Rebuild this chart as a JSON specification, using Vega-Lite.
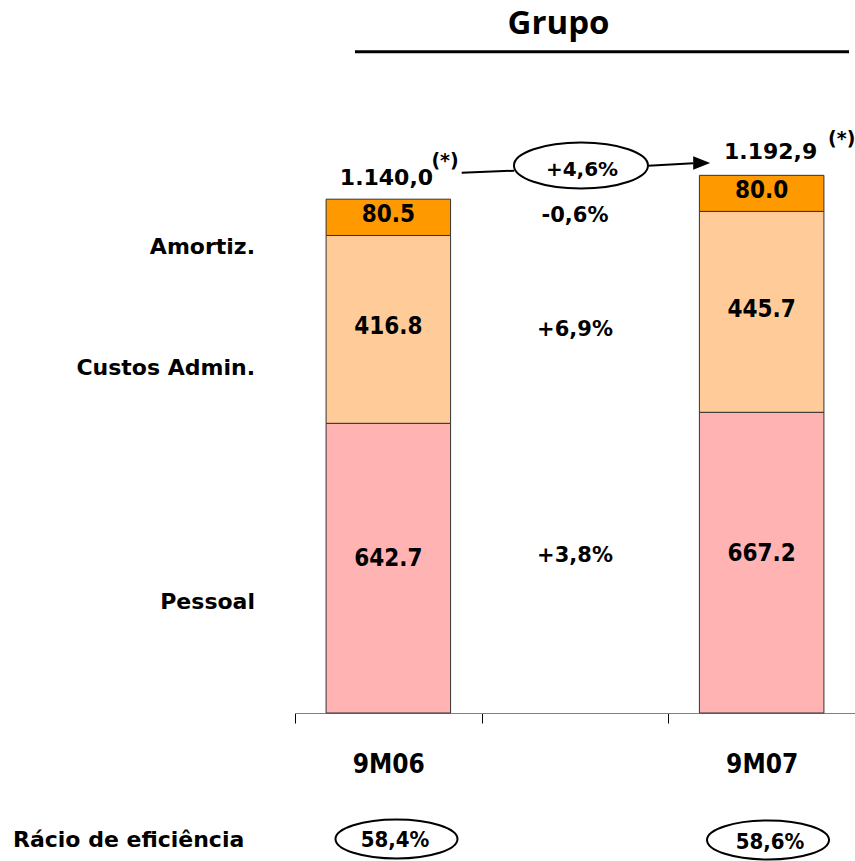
{
  "$schema": "https://vega.github.io/schema/vega-lite/v6.json",
  "width": 560,
  "height": 631,
  "autosize": {"type": "none"},
  "padding": {"left": 295, "top": 82, "right": 0, "bottom": 148},
  "background": "white",
  "config": {
    "view": {"stroke": null},
    "text": {"font": "DejaVu Sans", "fontWeight": "bold", "color": "black"}
  },
  "datasets": {
    "costs": [
      {"period": "9M06", "component": "Pessoal", "value": 642.7, "order": 1},
      {"period": "9M06", "component": "Custos Admin.", "value": 416.8, "order": 2},
      {"period": "9M06", "component": "Amortiz.", "value": 80.5, "order": 3},
      {"period": "9M07", "component": "Pessoal", "value": 667.2, "order": 1},
      {"period": "9M07", "component": "Custos Admin.", "value": 445.7, "order": 2},
      {"period": "9M07", "component": "Amortiz.", "value": 80.0, "order": 3}
    ],
    "rowLabels": [
      {"label": "Amortiz.", "pos": -0.2143, "level": 1033.9},
      {"label": "Custos Admin.", "pos": -0.2143, "level": 765.5},
      {"label": "Pessoal", "pos": -0.2143, "level": 246.3}
    ],
    "changes": [
      {"label": "-0,6%", "pos": 1.5, "level": 1102.7},
      {"label": "+6,9%", "pos": 1.5, "level": 849.8},
      {"label": "+3,8%", "pos": 1.5, "level": 348.3}
    ],
    "totals": [
      {"label": "1.140,0", "pos": 0.49, "level": 1185.9},
      {"label": "1.192,9", "pos": 2.548, "level": 1245.4}
    ],
    "notes": [
      {"label": "(*)", "pos": 0.804, "level": 1224.7},
      {"label": "(*)", "pos": 2.929, "level": 1273.5}
    ],
    "growth": [{"label": "+4,6%", "pos": 1.5375, "level": 1205.4}],
    "growthOval": [{"pos": 1.532, "level": 1214.7}],
    "links": [
      {"x0": 0.893, "y0": 1198.8, "x1": 1.175, "y1": 1203.2},
      {"x0": 1.8927, "y0": 1214.3, "x1": 2.1339, "y1": 1219.9}
    ],
    "arrowHead": [{"pos": 2.1786, "level": 1220.3}],
    "ratio": [
      {"label": "58,4%", "pos": 0.536, "level": -281.8},
      {"label": "58,6%", "pos": 2.545, "level": -286.2}
    ],
    "ratioOvals": [
      {"pos": 0.5437, "level": -279.6},
      {"pos": 2.534, "level": -281.8}
    ],
    "ratioLabel": [{"label": "Rácio de eficiência", "pos": -1.5107, "level": -281.8}],
    "heading": [{"label": "Grupo", "pos": 1.4116, "level": 1528.7}],
    "headingRule": [{"x0": 0.3214, "x1": 2.9679, "level": 1467.3}]
  },
  "resolve": {"scale": {"x": "independent"}},
  "layer": [
    {
      "data": {"name": "costs"},
      "mark": {"type": "bar", "width": {"band": 0.667}, "stroke": "#333333", "strokeWidth": 1},
      "encoding": {
        "x": {
          "field": "period", "type": "nominal",
          "scale": {"domain": ["9M06", " ", "9M07"], "paddingInner": 0, "paddingOuter": 0},
          "axis": {
            "title": null, "labelAngle": 0, "tickBand": "extent", "tickSize": 10,
            "tickColor": "black", "domainColor": "#808080", "grid": false,
            "labelFont": "DejaVu Sans Condensed", "labelFontWeight": "bold", "labelFontSize": 26,
            "labelColor": "black", "labelPadding": 49, "labelBaseline": "alphabetic"
          }
        },
        "y": {"field": "value", "type": "quantitative", "stack": "zero", "scale": {"domain": [0, 1400], "nice": false}, "axis": null},
        "color": {
          "field": "component", "type": "nominal",
          "scale": {"domain": ["Amortiz.", "Custos Admin.", "Pessoal"], "range": ["#FF9900", "#FFCC99", "#FFB3B3"]},
          "legend": null
        },
        "order": {"field": "order"}
      }
    },
    {
      "data": {"name": "costs"},
      "transform": [
        {"stack": "value", "groupby": ["period"], "sort": [{"field": "order", "order": "ascending"}], "as": ["lo", "hi"]},
        {"calculate": "(datum.lo + datum.hi) / 2", "as": "mid"},
        {"filter": "datum.component != 'Pessoal'"}
      ],
      "mark": {"type": "text", "font": "DejaVu Sans Condensed", "fontSize": 24, "baseline": "middle", "dy": -2},
      "encoding": {
        "x": {"field": "period", "type": "nominal", "scale": {"domain": ["9M06", " ", "9M07"], "paddingInner": 0, "paddingOuter": 0}, "axis": null},
        "y": {"field": "mid", "type": "quantitative", "scale": {"domain": [0, 1400], "nice": false}, "axis": null},
        "text": {"field": "value", "type": "quantitative", "format": ".1f"}
      }
    },
    {
      "data": {"name": "costs"},
      "transform": [
        {"stack": "value", "groupby": ["period"], "sort": [{"field": "order", "order": "ascending"}], "as": ["lo", "hi"]},
        {"calculate": "(datum.lo + datum.hi) / 2", "as": "mid"},
        {"filter": "datum.component == 'Pessoal'"}
      ],
      "mark": {"type": "text", "font": "DejaVu Sans Condensed", "fontSize": 24, "baseline": "middle", "dy": -9},
      "encoding": {
        "x": {"field": "period", "type": "nominal", "scale": {"domain": ["9M06", " ", "9M07"], "paddingInner": 0, "paddingOuter": 0}, "axis": null},
        "y": {"field": "mid", "type": "quantitative", "scale": {"domain": [0, 1400], "nice": false}, "axis": null},
        "text": {"field": "value", "type": "quantitative", "format": ".1f"}
      }
    },
    {
      "data": {"name": "rowLabels"},
      "mark": {"type": "text", "fontSize": 22, "align": "right", "baseline": "middle"},
      "encoding": {
        "x": {"field": "pos", "type": "quantitative", "scale": {"domain": [0, 3], "nice": false, "zero": false}, "axis": null},
        "y": {"field": "level", "type": "quantitative", "scale": {"domain": [0, 1400], "nice": false}, "axis": null},
        "text": {"field": "label"}
      }
    },
    {
      "data": {"name": "changes"},
      "mark": {"type": "text", "fontSize": 21, "align": "center", "baseline": "middle"},
      "encoding": {
        "x": {"field": "pos", "type": "quantitative", "scale": {"domain": [0, 3], "nice": false, "zero": false}, "axis": null},
        "y": {"field": "level", "type": "quantitative", "scale": {"domain": [0, 1400], "nice": false}, "axis": null},
        "text": {"field": "label"}
      }
    },
    {
      "data": {"name": "totals"},
      "mark": {"type": "text", "fontSize": 22, "align": "center", "baseline": "middle"},
      "encoding": {
        "x": {"field": "pos", "type": "quantitative", "scale": {"domain": [0, 3], "nice": false, "zero": false}, "axis": null},
        "y": {"field": "level", "type": "quantitative", "scale": {"domain": [0, 1400], "nice": false}, "axis": null},
        "text": {"field": "label"}
      }
    },
    {
      "data": {"name": "notes"},
      "mark": {"type": "text", "fontSize": 19, "align": "center", "baseline": "middle"},
      "encoding": {
        "x": {"field": "pos", "type": "quantitative", "scale": {"domain": [0, 3], "nice": false, "zero": false}, "axis": null},
        "y": {"field": "level", "type": "quantitative", "scale": {"domain": [0, 1400], "nice": false}, "axis": null},
        "text": {"field": "label"}
      }
    },
    {
      "data": {"name": "links"},
      "mark": {"type": "rule", "color": "black", "strokeWidth": 2},
      "encoding": {
        "x": {"field": "x0", "type": "quantitative", "scale": {"domain": [0, 3], "nice": false, "zero": false}, "axis": null},
        "x2": {"field": "x1"},
        "y": {"field": "y0", "type": "quantitative", "scale": {"domain": [0, 1400], "nice": false}, "axis": null},
        "y2": {"field": "y1"}
      }
    },
    {
      "data": {"name": "arrowHead"},
      "mark": {"type": "point", "shape": "M -1 -0.8 L 1 0 L -1 0.8 Z", "size": 289, "filled": true, "color": "black", "opacity": 1},
      "encoding": {
        "x": {"field": "pos", "type": "quantitative", "scale": {"domain": [0, 3], "nice": false, "zero": false}, "axis": null},
        "y": {"field": "level", "type": "quantitative", "scale": {"domain": [0, 1400], "nice": false}, "axis": null}
      }
    },
    {
      "data": {"name": "growthOval"},
      "mark": {"type": "point", "shape": "M -1 0 A 1 0.343 0 1 1 1 0 A 1 0.343 0 1 1 -1 0 Z", "size": 17956, "filled": false, "stroke": "black", "strokeWidth": 2, "fill": "white", "opacity": 1},
      "encoding": {
        "x": {"field": "pos", "type": "quantitative", "scale": {"domain": [0, 3], "nice": false, "zero": false}, "axis": null},
        "y": {"field": "level", "type": "quantitative", "scale": {"domain": [0, 1400], "nice": false}, "axis": null}
      }
    },
    {
      "data": {"name": "growth"},
      "mark": {"type": "text", "fontSize": 20, "align": "center", "baseline": "middle"},
      "encoding": {
        "x": {"field": "pos", "type": "quantitative", "scale": {"domain": [0, 3], "nice": false, "zero": false}, "axis": null},
        "y": {"field": "level", "type": "quantitative", "scale": {"domain": [0, 1400], "nice": false}, "axis": null},
        "text": {"field": "label"}
      }
    },
    {
      "data": {"name": "ratioOvals"},
      "mark": {"type": "point", "shape": "M -1 0 A 1 0.32 0 1 1 1 0 A 1 0.32 0 1 1 -1 0 Z", "size": 14884, "filled": false, "stroke": "black", "strokeWidth": 2, "opacity": 1},
      "encoding": {
        "x": {"field": "pos", "type": "quantitative", "scale": {"domain": [0, 3], "nice": false, "zero": false}, "axis": null},
        "y": {"field": "level", "type": "quantitative", "scale": {"domain": [0, 1400], "nice": false}, "axis": null}
      }
    },
    {
      "data": {"name": "ratio"},
      "mark": {"type": "text", "font": "DejaVu Sans Condensed", "fontSize": 22, "align": "center", "baseline": "middle"},
      "encoding": {
        "x": {"field": "pos", "type": "quantitative", "scale": {"domain": [0, 3], "nice": false, "zero": false}, "axis": null},
        "y": {"field": "level", "type": "quantitative", "scale": {"domain": [0, 1400], "nice": false}, "axis": null},
        "text": {"field": "label"}
      }
    },
    {
      "data": {"name": "ratioLabel"},
      "mark": {"type": "text", "fontSize": 22, "align": "left", "baseline": "middle"},
      "encoding": {
        "x": {"field": "pos", "type": "quantitative", "scale": {"domain": [0, 3], "nice": false, "zero": false}, "axis": null},
        "y": {"field": "level", "type": "quantitative", "scale": {"domain": [0, 1400], "nice": false}, "axis": null},
        "text": {"field": "label"}
      }
    },
    {
      "data": {"name": "heading"},
      "mark": {"type": "text", "font": "Open Sans", "fontSize": 33, "align": "center", "baseline": "middle"},
      "encoding": {
        "x": {"field": "pos", "type": "quantitative", "scale": {"domain": [0, 3], "nice": false, "zero": false}, "axis": null},
        "y": {"field": "level", "type": "quantitative", "scale": {"domain": [0, 1400], "nice": false}, "axis": null},
        "text": {"field": "label"}
      }
    },
    {
      "data": {"name": "headingRule"},
      "mark": {"type": "rule", "color": "black", "strokeWidth": 3},
      "encoding": {
        "x": {"field": "x0", "type": "quantitative", "scale": {"domain": [0, 3], "nice": false, "zero": false}, "axis": null},
        "x2": {"field": "x1"},
        "y": {"field": "level", "type": "quantitative", "scale": {"domain": [0, 1400], "nice": false}, "axis": null}
      }
    }
  ]
}
